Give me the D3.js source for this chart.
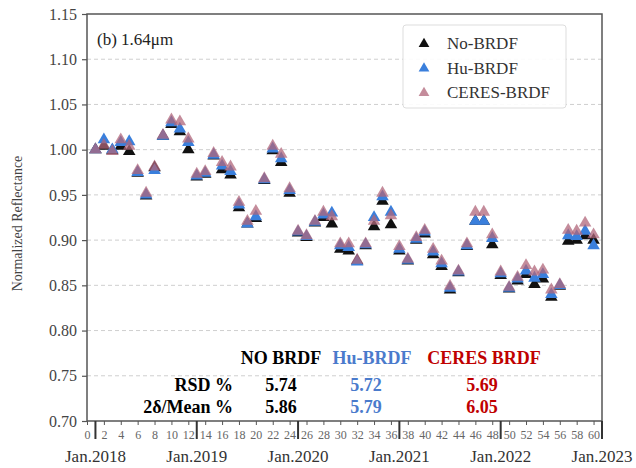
<!DOCTYPE html>
<html>
<head>
<meta charset="utf-8">
<script src="https://cdn.jsdelivr.net/npm/d3@7.9.0/dist/d3.min.js"></script>
<style>
  body { margin: 0; background: #fff; }
  svg { display: block; font-family: "Liberation Serif", "DejaVu Serif", serif; }
</style>
</head>
<body>
<svg id="chart" width="636" height="468"></svg>
<script>
// monthly normalized reflectance, months 1..60 (Jan.2018 – Dec.2022)
const months = d3.range(1, 61);

const noBrdf = [
  1.000, 1.004, 0.999, 1.004, 0.998, 0.974, 0.949, 0.980, 1.015, 1.028,
  1.020, 1.000, 0.970, 0.973, 0.993, 0.978, 0.972, 0.936, 0.918, 0.924,
  0.966, 0.999, 0.986, 0.952, 0.908, 0.903, 0.919, 0.925, 0.918, 0.890,
  0.888, 0.877, 0.894, 0.915, 0.943, 0.917, 0.888, 0.877, 0.900, 0.907,
  0.884, 0.871, 0.845, 0.864, 0.893, 0.921, 0.921, 0.895, 0.861, 0.846,
  0.855, 0.862, 0.851, 0.857, 0.837, 0.849, 0.899, 0.900, 0.905, 0.900,
];
const huBrdf = [
  1.000, 1.011, 1.000, 1.008, 1.009, 0.975, 0.950, 0.977, 1.015, 1.030,
  1.023, 1.008, 0.971, 0.974, 0.994, 0.982, 0.976, 0.939, 0.918, 0.926,
  0.967, 1.001, 0.990, 0.955, 0.909, 0.904, 0.920, 0.928, 0.930, 0.894,
  0.892, 0.876, 0.895, 0.925, 0.948, 0.931, 0.890, 0.878, 0.901, 0.909,
  0.887, 0.874, 0.847, 0.865, 0.894, 0.921, 0.921, 0.902, 0.863, 0.847,
  0.857, 0.866, 0.858, 0.862, 0.840, 0.850, 0.905, 0.904, 0.910, 0.894,
];
const ceresBrdf = [
  1.000, 1.005, 0.998, 1.011, 1.004, 0.977, 0.952, 0.981, 1.016, 1.033,
  1.031, 1.012, 0.973, 0.976, 0.996, 0.986, 0.981, 0.942, 0.921, 0.932,
  0.968, 1.004, 0.995, 0.957, 0.910, 0.905, 0.921, 0.931, 0.926, 0.896,
  0.896, 0.878, 0.896, 0.921, 0.952, 0.927, 0.893, 0.879, 0.903, 0.911,
  0.890, 0.877, 0.849, 0.866, 0.896, 0.931, 0.931, 0.906, 0.865, 0.848,
  0.859, 0.872, 0.865, 0.867, 0.845, 0.851, 0.911, 0.910, 0.919, 0.906,
];

const yTicks = [0.70, 0.75, 0.80, 0.85, 0.90, 0.95, 1.00, 1.05, 1.10, 1.15];
const xTicks = d3.range(0, 61, 2);
const yearMonths = [1, 13, 25, 37, 49, 61];
const yearLabels = ['Jan.2018', 'Jan.2019', 'Jan.2020', 'Jan.2021', 'Jan.2022', 'Jan.2023'];

const seriesNames = ['No-BRDF', 'Hu-BRDF', 'CERES-BRDF'];
const seriesValues = [noBrdf, huBrdf, ceresBrdf];
const seriesColors = ['#111111', '#3a7fdc', '#b0667a'];
const seriesOpacity = [1, 1, 0.75];

const statHeaders = ['NO BRDF', 'Hu-BRDF', 'CERES BRDF'];
const statRows = ['RSD %', '2δ/Mean %'];
const rsd = [5.74, 5.72, 5.69];
const twoDeltaMean = [5.86, 5.79, 6.05];
const statColors = ['#000000', '#4a7bcc', '#c00000'];

const svg = d3.select('#chart');
const area = { left: 87, right: 602, top: 14, bottom: 421 };

const x = d3.scaleLinear().domain([0, 61]).range([area.left, area.right]);
const y = d3.scaleLinear().domain([0.70, 1.15]).range([area.bottom, area.top]);

// dashed gridlines
svg.append('g')
  .selectAll('line')
  .data(yTicks.slice(1, -1))
  .join('line')
  .attr('x1', area.left)
  .attr('x2', area.right)
  .attr('y1', (d) => y(d))
  .attr('y2', (d) => y(d))
  .attr('stroke', '#cfcfcf')
  .attr('stroke-width', 1)
  .attr('stroke-dasharray', '4,3');

// frame
svg.append('rect')
  .attr('x', area.left)
  .attr('y', area.top)
  .attr('width', area.right - area.left)
  .attr('height', area.bottom - area.top)
  .attr('fill', 'none')
  .attr('stroke', '#555')
  .attr('stroke-width', 1.5);

// y axis
const yAxis = svg.append('g')
  .attr('transform', `translate(${area.left},0)`)
  .call(d3.axisLeft(y).tickValues(yTicks).tickFormat(d3.format('.2f')).tickSize(5).tickPadding(5));
yAxis.select('.domain').remove();
yAxis.selectAll('line').attr('stroke', '#555').attr('stroke-width', 1.2);
yAxis.selectAll('text')
  .attr('font-family', '"Liberation Serif", serif')
  .attr('font-size', 16)
  .attr('fill', '#444');

// x axis with month indices
const xAxis = svg.append('g')
  .attr('transform', `translate(0,${area.bottom})`)
  .call(d3.axisBottom(x).tickValues(xTicks).tickSize(4).tickPadding(5));
xAxis.select('.domain').remove();
xAxis.selectAll('line').attr('stroke', '#555');
xAxis.selectAll('text')
  .attr('font-family', '"Liberation Serif", serif')
  .attr('font-size', 12)
  .attr('fill', '#666')
  .attr('textLength', (d) => (d >= 10 ? 12 : null))
  .attr('lengthAdjust', 'spacingAndGlyphs');

// year separators
svg.append('g')
  .selectAll('line')
  .data(yearMonths)
  .join('line')
  .attr('x1', (d) => x(d))
  .attr('x2', (d) => x(d))
  .attr('y1', area.bottom)
  .attr('y2', area.bottom + 18)
  .attr('stroke', '#333')
  .attr('stroke-width', 2);

svg.append('g')
  .selectAll('text')
  .data(yearMonths)
  .join('text')
  .attr('x', (d) => x(d))
  .attr('y', 462)
  .attr('text-anchor', 'middle')
  .attr('font-size', 17)
  .attr('fill', '#333')
  .text((d, i) => yearLabels[i]);

// y label
svg.append('text')
  .attr('transform', `translate(22,${(area.top + area.bottom) / 2 + 6}) rotate(-90)`)
  .attr('text-anchor', 'middle')
  .attr('font-size', 14)
  .attr('fill', '#444')
  .text('Normalized Reflectance');

// panel title
svg.append('text')
  .attr('x', 97)
  .attr('y', 45)
  .attr('font-size', 17)
  .attr('fill', '#222')
  .text('(b) 1.64μm');

// triangles, one layer per series
const tri = d3.symbol().type(d3.symbolTriangle).size(68);
seriesValues.forEach((vals, s) => {
  svg.append('g')
    .selectAll('path')
    .data(months.map((m, i) => ({ m, v: vals[i] })))
    .join('path')
    .attr('d', tri)
    .attr('transform', (d) => `translate(${x(d.m)},${y(d.v)})`)
    .attr('fill', seriesColors[s])
    .attr('fill-opacity', seriesOpacity[s]);
});

// legend
const legend = svg.append('g');
legend.append('rect')
  .attr('x', 403)
  .attr('y', 25)
  .attr('width', 163)
  .attr('height', 83)
  .attr('rx', 3)
  .attr('fill', '#fff')
  .attr('fill-opacity', 0.9)
  .attr('stroke', '#ddd');
seriesNames.forEach((name, i) => {
  const ly = 44 + i * 24.5;
  legend.append('path')
    .attr('d', d3.symbol().type(d3.symbolTriangle).size(50))
    .attr('transform', `translate(424,${ly})`)
    .attr('fill', seriesColors[i])
    .attr('fill-opacity', seriesOpacity[i]);
  legend.append('text')
    .attr('x', 447)
    .attr('y', ly + 5)
    .attr('font-size', 17)
    .attr('fill', '#333')
    .text(name);
});

// statistics table
const colX = [281, 370, 482];
const table = svg.append('g').attr('font-weight', 'bold').attr('font-size', 18);
statHeaders.forEach((h, i) => {
  table.append('text')
    .attr('x', i === 0 ? colX[i] : colX[i] + 2)
    .attr('y', 364)
    .attr('text-anchor', 'middle')
    .attr('fill', statColors[i])
    .text(h);
});
[rsd, twoDeltaMean].forEach((row, r) => {
  const ry = 391 + r * 22;
  table.append('text')
    .attr('x', 233)
    .attr('y', ry)
    .attr('text-anchor', 'end')
    .attr('fill', '#000')
    .text(statRows[r]);
  row.forEach((v, i) => {
    table.append('text')
      .attr('x', i === 1 ? 366 : colX[i])
      .attr('y', ry)
      .attr('text-anchor', 'middle')
      .attr('fill', statColors[i])
      .text(d3.format('.2f')(v));
  });
});
</script>
</body>
</html>
